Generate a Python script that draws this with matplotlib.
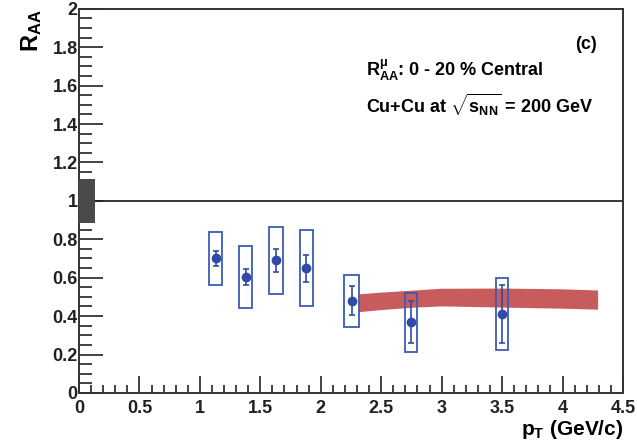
import matplotlib
matplotlib.use('Agg')
import matplotlib.pyplot as plt
from matplotlib.patches import Rectangle
from matplotlib.ticker import MultipleLocator

plt.rcParams['font.family'] = ['Liberation Sans', 'DejaVu Sans']
plt.rcParams['font.weight'] = 'bold'
plt.rcParams['axes.labelweight'] = 'bold'
plt.rcParams['mathtext.fontset'] = 'custom'
plt.rcParams['mathtext.rm'] = 'Liberation Sans:bold'
plt.rcParams['mathtext.it'] = 'Liberation Sans:bold'
plt.rcParams['mathtext.bf'] = 'Liberation Sans:bold'

# muon R_AA points, 0-20% central Cu+Cu
pt = [1.13, 1.38, 1.63, 1.88, 2.255, 2.75, 3.5]
raa = [0.70, 0.603, 0.69, 0.65, 0.48, 0.368, 0.41]
stat_err = [0.04, 0.04, 0.058, 0.07, 0.075, 0.11, 0.152]
sys_err = [0.14, 0.163, 0.176, 0.2, 0.135, 0.153, 0.187]
box_halfwidth = [0.055, 0.055, 0.055, 0.055, 0.06, 0.05, 0.05]

# theory band
band_pt = [2.31, 2.5, 2.75, 3.0, 3.5, 4.0, 4.29]
band_hi = [0.516, 0.525, 0.535, 0.545, 0.546, 0.542, 0.536]
band_lo = [0.423, 0.434, 0.446, 0.453, 0.447, 0.441, 0.436]

# global normalisation uncertainty at unity
norm_err = 0.113

blue = '#2f4aa8'
box_blue = '#3d5cb8'
red = '#c85b5b'

fig = plt.figure(figsize=(6.37, 4.4), dpi=100)
ax = fig.add_axes([0.124, 0.107, 0.854, 0.873])

ax.fill_between(band_pt, band_lo, band_hi, color=red, lw=0, zorder=2)

for x, y, s, w in zip(pt, raa, sys_err, box_halfwidth):
    ax.add_patch(Rectangle((x - w, y - s), 2 * w, 2 * s, fill=False,
                           ec=box_blue, lw=1.3, zorder=3))
ax.errorbar(pt, raa, yerr=stat_err, fmt='o', color=blue, ms=6,
            elinewidth=1.2, capsize=2.5, capthick=1.2, zorder=4)

ax.axhline(1.0, color='black', lw=1.1, zorder=1)
ax.add_patch(Rectangle((0, 1 - norm_err), 0.135, 2 * norm_err,
                       color='#4a4a4a', lw=0, zorder=5))

ax.set_xlim(0, 4.5)
ax.set_ylim(0, 2)
ax.xaxis.set_major_locator(MultipleLocator(0.5))
ax.xaxis.set_minor_locator(MultipleLocator(0.1))
ax.yaxis.set_major_locator(MultipleLocator(0.2))
ax.yaxis.set_minor_locator(MultipleLocator(0.05))
ax.set_xticks([0, 0.5, 1, 1.5, 2, 2.5, 3, 3.5, 4, 4.5])
ax.set_xticklabels(['0', '0.5', '1', '1.5', '2', '2.5', '3', '3.5', '4', '4.5'])
ax.set_yticks([0, 0.2, 0.4, 0.6, 0.8, 1, 1.2, 1.4, 1.6, 1.8, 2])
ax.set_yticklabels(['0', '0.2', '0.4', '0.6', '0.8', '1', '1.2', '1.4', '1.6', '1.8', '2'])

ax.tick_params(axis='both', which='both', direction='in', top=False, right=False,
               labelsize=13, colors='#222222', width=1.2)
ax.tick_params(axis='y', which='major', length=17, pad=1)
ax.tick_params(axis='y', which='minor', length=9)
ax.tick_params(axis='x', which='major', length=12, pad=5)
ax.tick_params(axis='x', which='minor', length=6)
for sp in ax.spines.values():
    sp.set_linewidth(1.4)
    sp.set_color('#333333')

ax.set_ylabel(r'$\mathrm{R}_{\mathrm{AA}}$', fontsize=17, loc='top', labelpad=6)
ax.set_xlabel(r'$\mathrm{p}_{\mathrm{T}}$ (GeV/c)', fontsize=15, loc='right',
              labelpad=1, fontweight='bold')

ax.text(0.952, 0.895, '(c)', transform=ax.transAxes, fontsize=13, ha='right')
ax.text(0.527, 0.826, r'$\mathrm{R}^{\mu}_{\mathrm{AA}}$: 0 - 20 % Central',
        transform=ax.transAxes, fontsize=13)
ax.text(0.527, 0.729, r'Cu+Cu at $\sqrt{\mathrm{s}_{\mathrm{NN}}}$ = 200 GeV',
        transform=ax.transAxes, fontsize=13)

fig.savefig('out.png', dpi=100)
